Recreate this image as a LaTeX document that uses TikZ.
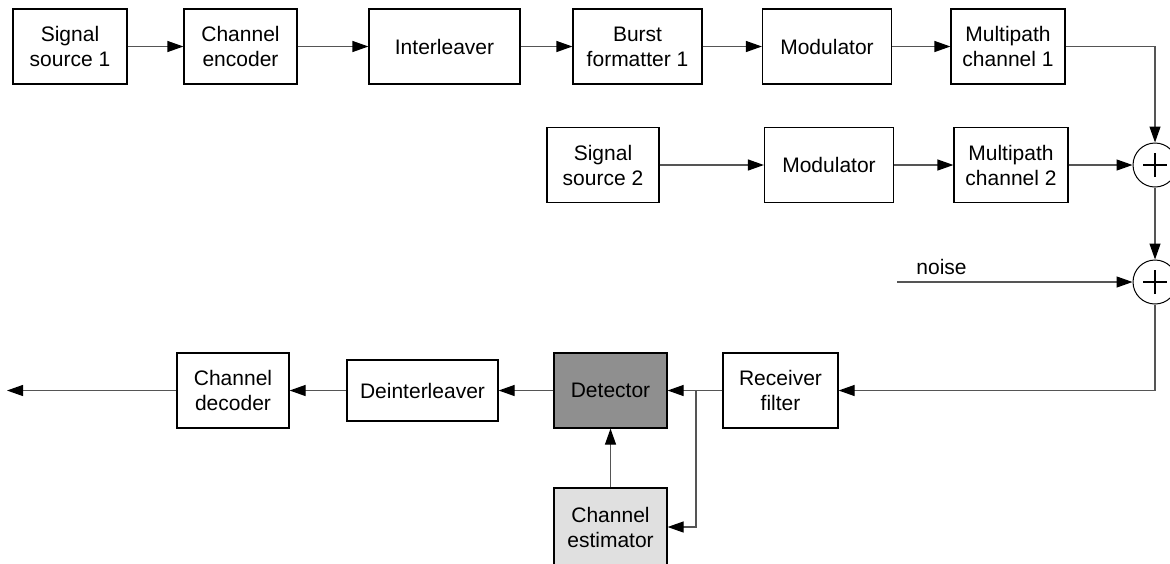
\documentclass[tikz,border=0pt]{standalone}
\usepackage{fontspec}
\setmainfont{Liberation Sans}
\usetikzlibrary{arrows.meta,positioning}
\definecolor{wireGray}{RGB}{85,85,85}
\definecolor{detectorGray}{RGB}{143,143,143}
\definecolor{estimatorGray}{RGB}{224,224,224}

\begin{document}
\begin{tikzpicture}[x=0.5pt,y=-0.5pt,
    block/.style={draw=black,line width=0.6pt,align=center,inner sep=2pt,
      minimum height=37.5pt,font=\fontsize{10.5}{12.5}\selectfont},
    wire/.style={wireGray,line width=0.6pt,-{Triangle[length=8pt,width=5.5pt,color=black]}},
    adder/.style={circle,draw=black,line width=0.5pt,minimum size=22pt,inner sep=0pt,
      path picture={\draw[black,line width=0.6pt] (path picture bounding box.center)
        +(-6pt,0) -- +(6pt,0) +(0,-6pt) -- +(0,6pt);}}]
    \useasboundingbox (0,0) rectangle (1170,563);
    % transmitter chain
    \node[block,minimum width=57pt] (src1) at (70,46.5) {Signal\\source 1};
    \node[block,minimum width=56.5pt] (enc) at (240.5,46.5) {Channel\\encoder};
    \node[block,minimum width=75.5pt] (intl) at (444.5,46.5) {Interleaver};
    \node[block,minimum width=64.5pt] (burst) at (637.5,46.5) {Burst\\formatter 1};
    \node[block,minimum width=64.5pt] (mod1) at (827,46.5) {Modulator};
    \node[block,minimum width=57pt] (mp1) at (1008,46.5) {Multipath\\channel 1};
    % interferer
    \node[block,minimum width=56pt] (src2) at (603,165) {Signal\\source 2};
    \node[block,minimum width=64.5pt] (mod2) at (829,165) {Modulator};
    \node[block,minimum width=57pt] (mp2) at (1011,165) {Multipath\\channel 2};
    \node[adder] (sum1) at (1155,165) {};
    \node[adder] (sum2) at (1155,282) {};
    \coordinate (noise) at (897,282);
    \node[anchor=base west,inner sep=0pt,font=\fontsize{10.5}{12.5}\selectfont] (noiselab) at (916,274) {noise};
    % receiver chain
    \node[block,minimum width=57.5pt] (rx) at (780.5,390.5) {Receiver\\filter};
    \node[block,minimum width=56.5pt,fill=detectorGray] (det) at (610.5,390.5) {Detector};
    \node[block,minimum width=75.5pt,minimum height=30.5pt] (deint) at (422.5,390.5) {Deinterleaver};
    \node[block,minimum width=56pt] (dec) at (233,390.5) {Channel\\decoder};
    \node[block,minimum width=56.5pt,minimum height=39pt,fill=estimatorGray] (est) at (610.5,527) {Channel\\estimator};
    \coordinate (tap) at (696,390.5);
    \coordinate (out) at (7,390.5);

    \draw[wire] (src1) -- (enc);
    \draw[wire] (enc) -- (intl);
    \draw[wire] (intl) -- (burst);
    \draw[wire] (burst) -- (mod1);
    \draw[wire] (mod1) -- (mp1);
    \draw[wire] (mp1.east) -| (sum1.north);
    \draw[wire] (src2) -- (mod2);
    \draw[wire] (mod2) -- (mp2);
    \draw[wire] (mp2) -- (sum1);
    \draw[wire] (sum1) -- (sum2);
    \draw[wire] (noise) -- (sum2);
    \draw[wire] (sum2.south) |- (rx.east);
    \draw[wire] (rx) -- (det);
    \draw[wire] (tap) |- (est.east);
    \draw[wire] (est) -- (det);
    \draw[wire] (det) -- (deint);
    \draw[wire] (deint) -- (dec);
    \draw[wire] (dec) -- (out);
\end{tikzpicture}
\end{document}
